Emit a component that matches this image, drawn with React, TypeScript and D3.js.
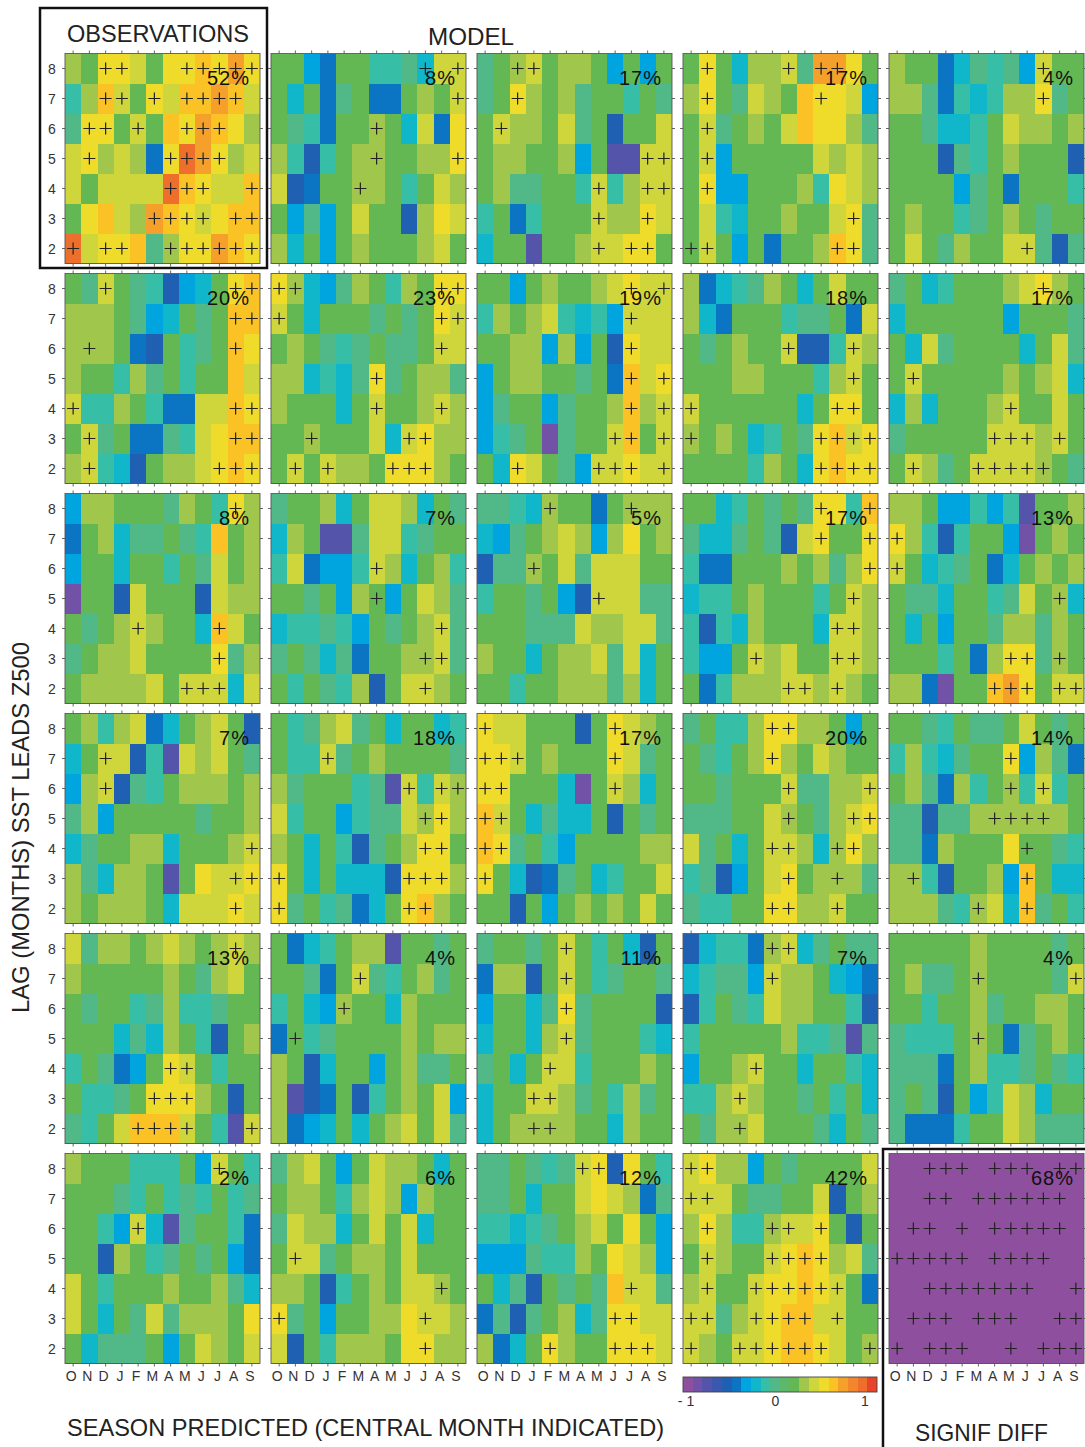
import React from 'react';
import * as d3 from 'd3';

// ---------- axis / legend data ----------
const MONTHS = ['O', 'N', 'D', 'J', 'F', 'M', 'A', 'M', 'J', 'J', 'A', 'S'];
const LAGS = [8, 7, 6, 5, 4, 3, 2];
const CBAR_TICKS = [-1, 0, 1];
const CBAR_TICK_LABELS = ['- 1', '0', '1'];
// panel columns that carry month labels under the bottom row (column 4 holds the colorbar)
const XLABEL_COLUMNS = [0, 1, 2, 4];
// discrete colormap (-1 .. 1, 20 levels)
const COLOR_LEVELS = [
  '#8e4f9f', '#7152a6', '#5454aa', '#3a58ae', '#1f60b2', '#0b74c3', '#00a4df', '#10b7cb', '#36bea6', '#50b987',
  '#5cb86a', '#64b853', '#a0c64c', '#cfd63c', '#efdb2a', '#fac224', '#f6a02c', '#f2862c', '#ee6e2c', '#e8442c',
];
// letter codes used in the panel strings -> correlation value
const LEVEL_VALUE: Record<string, number> = {
  z: -0.95, a: -0.85, b: -0.75, c: -0.55, d: -0.45, e: -0.35, f: -0.25, g: -0.15, h: -0.05,
  i: 0.15, j: 0.25, k: 0.35, l: 0.45, m: 0.55, n: 0.65, o: 0.85,
};

// ---------- panel values (rows: lag 8 .. 2, columns: O .. S) ----------
const P11 = ['jillkillmlnl', 'gjmkilkmmnmk', 'hllikimlnmlj', 'kljkjdlonljk', 'kikkkkomlkkm', 'ilmkjnmlklmm', 'okllmhjllnml'];
const S11 = ['..++...+++++', '..++.+.++++.', '.++.+..+++..', '.+....++++..', '......+++..+', '.....++++.++', '+.++..++++++'];
const P12 = ['iiediigghfkk', 'ifidhiddijik', 'ihgdiijifkdl', 'jgcgijjiijjl', 'kcdiijjigikj', 'ieheikiicjlk', 'jfieijiiijki'];
const S12 = ['.........+.+', '...........+', '......+.....', '......+....+', '.....+......', '............', '............'];
const P13 = ['hijkijjieiei', 'hiljijhiigih', 'ikjjikhiciik', 'ijjiijeibbkk', 'ijhhiigkgjkk', 'gidgiiikjjlk', 'fiibiijkklli'];
const S13 = ['..++........', '..+.........', '.+..........', '..........++', '.......+..++', '.......+..+.', '.......+.++.'];
const P14 = ['ilifjjkhnnli', 'jlihkjimllke', 'ikhijikmlljh', 'ikeiiiiikjkj', 'ileeiiijglkj', 'ikgfiijiiklh', 'ikieidiijmlh'];
const S14 = ['.+....+.++..', '.+......+...', '.+..........', '.+..........', '.+..........', '..........+.', '++.......++.'];
const P15 = ['jiidfhghekii', 'jjhdgfgjjlhi', 'iihffgikjjij', 'iiichgijiiic', 'iiiiehidiiig', 'ijiighijihii', 'ikihjiikkhch'];
const S15 = ['.........+..', '.........+..', '............', '............', '............', '............', '........+...'];

const P21 = ['ihkihgcefilm', 'jjjihefihimm', 'jjjidcighiml', 'jiigjhigiimk', 'kggjigddkkml', 'ikhiddhgklmm', 'jkgfcijjklml'];
const S21 = ['..+.......++', '..........++', '.+........+.', '............', '+.........++', '.+........++', '.+.......+++'];
const P22 = ['ljfehjigjill', 'kifiiihihilk', 'ijihghihhikk', 'jjfgfhlhijjh', 'jiiifikiijkj', 'iijiiikfkljj', 'ikikjjilllji'];
const S22 = ['++........++', '+.........++', '..........+.', '......+.....', '......+...+.', '..+.....++..', '.+.+...+++..'];
const P23 = ['iieijiijklkk', 'gjijkgfgekkk', 'iijjejeiclkk', 'eijjiihidmkl', 'ehiiehiijmjk', 'eghiahiikmik', 'iflkihekklkk'];
const S23 = ['.........+.+', '.........+..', '.........+..', '.........+.+', '.........+.+', '........++.+', '..+....+++.+'];
const P24 = ['jdfghjifikii', 'jfdiiighhidk', 'ihijiikccgkj', 'iiijjiiigjki', 'kiiiiiifilli', 'jijifgihlmkl', 'iiiigjiflmll'];
const S24 = ['............', '............', '......+...+.', '..........+.', '+........++.', '+.......++++', '........++++'];
const P25 = ['hifgiiijklji', 'fiiiiiieiiih', 'ifkhiiiifikh', 'ikiiiiijijkf', 'fjfiiijkiiki', 'hiiiiikkkjki', 'ikjhikkkkjih'];
const S25 = ['.........+..', '............', '............', '.+..........', '.......+....', '......+++.+.', '.+...+++++..'];

const P31 = ['ejjiiihjiglj', 'dijfhhihgmij', 'eiifiigihkij', 'aiickiiickjj', 'ihijkjiifmki', 'hijjkiiiilhj', 'ijjjjkikkkfk'];
const S31 = ['..........+.', '............', '............', '............', '....+....+..', '.........+..', '.......+++..'];
const P32 = ['hiijfikkjfih', 'fjibbhkkghii', 'gkdeegkjfijg', 'iihiejieikjh', 'fgghgeihijkh', 'hihfhdiijjkh', 'igihgjcikkji'];
const S32 = ['............', '............', '......+.....', '......+.....', '..........+.', '.........++.', '.........+..'];
const P33 = ['hhgfjiidijjj', 'fehijkjejlij', 'chhjikhkkkii', 'giihieckkkhh', 'iiihhhkjjkkh', 'jiifijjkhkfi', 'iigiijjjhjfi'];
const S33 = ['....+....+..', '............', '...+........', '.......+....', '............', '............', '............'];
const P34 = ['iifgihihllgm', 'hffhihckliil', 'gddiiijijhjl', 'fggijiiigikj', 'gcgfjiiifkkj', 'geeikjkiikkj', 'idgjjjkkjkji'];
const S34 = ['........+..+', '........+..+', '...........+', '..........+.', '.........++.', '....+....++.', '......++.+..'];
const P35 = ['jjieegegbiij', 'ljgcgiieaiji', 'kifghidfijij', 'ihhfiighkijf', 'ifieiihjjhji', 'iiigidjllhji', 'jjdaiimnlikk'];
const S35 = ['............', '+...........', '+...........', '..........+.', '............', '.......++.+.', '......+++.++'];

const P41 = ['ijgjkdfijkic', 'fikkcgbkjkih', 'ejkchgijjjij', 'hjeiiiiihiij', 'fhiijjfiiijk', 'jhfjjibilkkl', 'jijjjifkkklk'];
const S41 = ['............', '..+.........', '..+.........', '............', '...........+', '..........++', '..........+.'];
const P42 = ['ighjkhifiifg', 'iggkhijiiiih', 'jhiiighbkgkj', 'kgiieghhkjlj', 'jifigchijlli', 'lififffclllj', 'lhighdfilmji'];
const S42 = ['............', '...+........', '........+.++', '.........++.', '.........++.', '+.......+++.', '+.......++..'];
const P43 = ['lkkiiicilkji', 'llkijiiilkhi', 'lliiifaikjfi', 'mkifhfficihi', 'mlhigeiiiijj', 'lifcdhifgiik', 'iicieijijiki'];
const S43 = ['+.......+...', '+++.....+...', '++......+...', '++..........', '++..........', '+...........', '............'];
const P44 = ['higgjlljjiei', 'ihgijljikjii', 'iihiiikhhjjk', 'hhhiikjihjkl', 'khifikkjfjlj', 'ghceiklijjjh', 'hggiilljjkii'];
const S44 = ['.....++.....', '.....+......', '......+....+', '......+...++', '.....++..++.', '......+..+..', '.....++..+..'];
const P45 = ['iihgihhikihi', 'gjgfhiilejhd', 'ijhdjgijgkgi', 'hhchhjjjjjji', 'hhdjiiiliihg', 'jjgciijemiff', 'jjjhgjkfmhig'];
const S45 = ['............', '.......+....', '.......+.+..', '......++++..', '........+...', '.+......+...', '.....+..+...'];

const P51 = ['khjjijkjijkj', 'jiiiiijihjki', 'ihiighjgghii', 'iiifhfjigcij', 'gihdeilkigii', 'igghillljici', 'hgikmmmkigbk'];
const S51 = ['..........+.', '............', '............', '............', '......++....', '.....+++....', '....++++...+'];
const P52 = ['idfgijjbiihi', 'iihdikhgijhi', 'gifejiifjiii', 'dighiiiijijj', 'jicfiieijhhi', 'jbcdicgijike', 'jdefifijkikh'];
const S52 = ['............', '.....+......', '....+.......', '.+..........', '............', '............', '............'];
const P53 = ['hiihikigifci', 'djjcikighiih', 'eiifhlhiiiic', 'fiifjkhiiigf', 'hifikkgiiiji', 'fiikkjhigjhi', 'fijjjjiifjii'];
const S53 = ['.....+......', '.....+......', '.....+......', '.....+......', '....+.......', '...++.......', '...++.......'];
const P54 = ['cfggdjkfhihh', 'fghhekjjifed', 'cgihgkjjiigc', 'giiiiijgghbh', 'eiijkiifiigf', 'ggjkjiihigif', 'ihjjkiiihfih'];
const S54 = ['.....++.....', '.....+......', '............', '............', '....+.......', '...+........', '...+........'];
const P55 = ['iiiiijiiiihi', 'ijhhijiiiihk', 'iigiijhiijji', 'hgggijidhiji', 'hhhdijgghihg', 'hihciegkjfii', 'hdddgiikjhhh'];
const S55 = ['............', '.....+.....+', '............', '.....+......', '............', '............', '............'];

const P61 = ['jiiigggiekig', 'iiihgighgigh', 'iigekfbhiigd', 'iicjighihied', 'kigiiijiijhf', 'kifihkhjjjil', 'ifhhhieikjik'];
const S61 = ['.........+..', '............', '....+.......', '............', '............', '............', '............'];
const P62 = ['hjkieikjjifi', 'ijjigjkjejii', 'hkjjfikikfii', 'ikkhijjikiii', 'jjicgijikkji', 'lhieiijjlkkj', 'kcigjjjilljj'];
const S62 = ['............', '............', '............', '.+..........', '..........+.', '+........+..', '.........+..'];
const P63 = ['hhihghklclig', 'hhifiiklkjdh', 'ggfghijkilie', 'eeehggjilkje', 'ifhcihihmkkh', 'dhchijfhllkk', 'jdfiljiilllk'];
const S63 = ['......++....', '............', '............', '............', '.........+..', '........++..', '....+...+++.'];
const P64 = ['kljjeihiiiik', 'kkkihhiikcij', 'jljggjkklici', 'ikjiiklmljkh', 'jkiikllmlkid', 'kkhjklmmkkii', 'kjikklmmlkij'];
const S64 = ['++..........', '++..........', '.+...++.+...', '.+...++++...', '.+..++++++..', '++..++++.+..', '+..++++++..+'];
const P65 = ['zzzzzzzzzzzz', 'zzzzzzzzzzzz', 'zzzzzzzzzzzz', 'zzzzzzzzzzzz', 'zzzzzzzzzzzz', 'zzzzzzzzzzzz', 'zzzzzzzzzzzz'];
const S65 = ['..+++.+++.++', '..++.++++++.', '.++.+.+++++.', '+++++.++++..', '..+++++++..+', '.+++.+++..++', '+.+++..+.+++'];

const PCT_ROW1 = [52, 8, 17, 17, 4];
const PCT_ROW2 = [20, 23, 19, 18, 17];
const PCT_ROW3 = [8, 7, 5, 17, 13];
const PCT_ROW4 = [7, 18, 17, 20, 14];
const PCT_ROW5 = [13, 4, 11, 7, 4];
const PCT_ROW6 = [2, 6, 12, 42, 68];

const PANELS = [
  [P11, P12, P13, P14, P15],
  [P21, P22, P23, P24, P25],
  [P31, P32, P33, P34, P35],
  [P41, P42, P43, P44, P45],
  [P51, P52, P53, P54, P55],
  [P61, P62, P63, P64, P65],
];
const SIGNS = [
  [S11, S12, S13, S14, S15],
  [S21, S22, S23, S24, S25],
  [S31, S32, S33, S34, S35],
  [S41, S42, S43, S44, S45],
  [S51, S52, S53, S54, S55],
  [S61, S62, S63, S64, S65],
];
const PCTS = [PCT_ROW1, PCT_ROW2, PCT_ROW3, PCT_ROW4, PCT_ROW5, PCT_ROW6];

// ---------- layout ----------
const W = 1085;
const H = 1447;
const PW = 195;
const PH = 210;
const LEFT0 = 65;
const TOP0 = 53.5;
const DX = 206;
const DY = 220;
const FONT = "'Liberation Sans', Arial, Helvetica, sans-serif";

export default function App() {
  const color = d3.scaleQuantize<string>().domain([-1, 1]).range(COLOR_LEVELS);
  const x = d3.scaleBand<number>().domain(d3.range(12)).range([0, PW]);
  const y = d3.scaleBand<number>().domain(LAGS).range([0, PH]);
  const colX = d3.scaleLinear().domain([0, 1]).range([LEFT0, LEFT0 + DX]);
  const rowY = d3.scaleLinear().domain([0, 1]).range([TOP0, TOP0 + DY]);
  const cbX = d3.scaleBand<number>().domain(d3.range(COLOR_LEVELS.length)).range([683, 877]);
  const cbTick = d3.scaleLinear().domain([-1, 1]).range([686, 865]);
  const bw = x.bandwidth();
  const bh = y.bandwidth();

  const panels: React.ReactNode[] = [];
  PANELS.forEach((row, r) => {
    row.forEach((rows, c) => {
      const left = colX(c);
      const top = rowY(r);
      const cells: React.ReactNode[] = [];
      const plus: string[] = [];
      rows.forEach((str, li) => {
        const lag = LAGS[li];
        str.split('').forEach((ch, m) => {
          const v = LEVEL_VALUE[ch];
          cells.push(
            <rect key={`${li}-${m}`} x={x(m)} y={y(lag)} width={bw + 0.4} height={bh + 0.4} fill={color(v)} />
          );
          if (SIGNS[r][c][li][m] === '+') {
            const cx = (x(m) as number) + bw / 2;
            const cy = (y(lag) as number) + bh / 2;
            plus.push(`M${cx - 6},${cy}H${cx + 6}M${cx},${cy - 6}V${cy + 6}`);
          }
        });
      });
      const ticks: string[] = [];
      d3.range(12).forEach((m) => {
        const tx = (x(m) as number) + bw / 2;
        ticks.push(`M${tx},0V-3M${tx},${PH}V${PH + 3}`);
      });
      LAGS.forEach((lag) => {
        const ty = (y(lag) as number) + bh / 2;
        ticks.push(`M0,${ty}H-3M${PW},${ty}H${PW + 3}`);
      });
      panels.push(
        <g key={`p${r}-${c}`} transform={`translate(${left},${top})`}>
          <g shapeRendering="crispEdges">{cells}</g>
          <rect x={0} y={0} width={PW} height={PH} fill="none" stroke="#555" strokeWidth={0.9} />
          <path d={ticks.join('')} stroke="#555" strokeWidth={0.9} fill="none" />
          <path d={plus.join('')} stroke="#222" strokeWidth={1.2} fill="none" />
          <text
            x={PW - 10}
            y={31}
            textAnchor="end"
            fontFamily={FONT}
            fontSize={20}
            letterSpacing={1}
            fill="#111"
          >
            {`${PCTS[r][c]}%`}
          </text>
          {c === 0 &&
            LAGS.map((lag) => (
              <text
                key={`yl${lag}`}
                x={-13}
                y={(y(lag) as number) + bh / 2 + 5}
                textAnchor="middle"
                fontFamily={FONT}
                fontSize={14}
                fill="#333"
              >
                {lag}
              </text>
            ))}
          {r === PANELS.length - 1 &&
            XLABEL_COLUMNS.includes(c) &&
            MONTHS.map((mo, m) => (
              <text
                key={`xl${m}`}
                x={(x(m) as number) + bw / 2 - 2}
                y={PH + 17.5}
                textAnchor="middle"
                fontFamily={FONT}
                fontSize={14}
                fill="#333"
              >
                {mo}
              </text>
            ))}
        </g>
      );
    });
  });

  return (
    <svg
      width={W}
      height={H}
      viewBox={`0 0 ${W} ${H}`}
      style={{ position: 'absolute', left: 0, top: 0, background: '#fff' }}
    >
      <rect x={0} y={0} width={W} height={H} fill="#fff" />
      {panels}

      {/* observations box */}
      <rect x={40} y={8} width={227} height={260} fill="none" stroke="#111" strokeWidth={2.5} />
      <text x={67} y={42} fontFamily={FONT} fontSize={24} fill="#222" textLength={182} lengthAdjust="spacingAndGlyphs">
        OBSERVATIONS
      </text>
      <text x={428} y={45} fontFamily={FONT} fontSize={24} fill="#222" textLength={86} lengthAdjust="spacingAndGlyphs">
        MODEL
      </text>

      {/* signif diff box */}
      <rect x={883} y={1149} width={220} height={320} fill="none" stroke="#111" strokeWidth={2.5} />
      <text x={915} y={1441} fontFamily={FONT} fontSize={24} fill="#222" textLength={133} lengthAdjust="spacingAndGlyphs">
        SIGNIF DIFF
      </text>

      {/* axis titles */}
      <text x={67} y={1436} fontFamily={FONT} fontSize={24} fill="#222" textLength={597} lengthAdjust="spacingAndGlyphs">
        SEASON PREDICTED (CENTRAL MONTH INDICATED)
      </text>
      <text
        transform="translate(29,1013) rotate(-90)"
        x={0}
        y={0}
        fontFamily={FONT}
        fontSize={24}
        fill="#222"
        textLength={371}
        lengthAdjust="spacingAndGlyphs"
      >
        LAG (MONTHS) SST LEADS Z500
      </text>

      {/* colorbar */}
      <g shapeRendering="crispEdges">
        {COLOR_LEVELS.map((col, i) => (
          <rect key={`cb${i}`} x={cbX(i)} y={1377} width={cbX.bandwidth() + 0.4} height={15} fill={col} />
        ))}
      </g>
      <rect x={683} y={1377} width={194} height={15} fill="none" stroke="#444" strokeWidth={0.9} />
      {CBAR_TICKS.map((t, i) => (
        <text key={`cbt${t}`} x={cbTick(t)} y={1406} textAnchor="middle" fontFamily={FONT} fontSize={14} fill="#333">
          {CBAR_TICK_LABELS[i]}
        </text>
      ))}
    </svg>
  );
}
